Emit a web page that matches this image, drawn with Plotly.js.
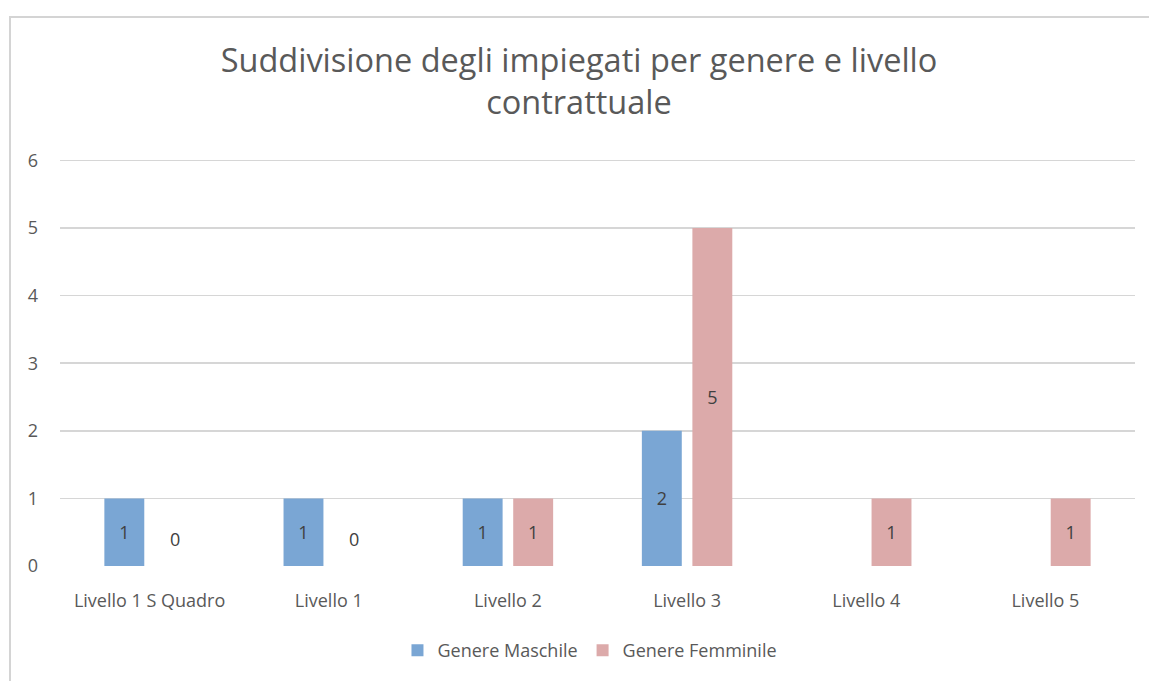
<!DOCTYPE html>
<html>
<head>
<meta charset="utf-8">
<script src="https://cdn.plot.ly/plotly-3.0.1.min.js"></script>
<style>
  html, body { margin: 0; padding: 0; background: #ffffff; overflow: hidden; }
  #frame { position: absolute; left: 9px; top: 16px; width: 1140px; height: 665px;
           border-left: 2px solid #d4d4d4; border-top: 2px solid #d4d4d4; box-sizing: border-box; }
  #chart { position: absolute; left: 9px; top: 16px; width: 1140px; height: 665px; }
</style>
</head>
<body>
<div id="frame"></div>
<div id="chart"></div>
<script>
const categories = ["Livello 1 S Quadro", "Livello 1", "Livello 2", "Livello 3", "Livello 4", "Livello 5"];
const maschile = [1, 1, 1, 2, null, null];
const femminile = [0, 0, 1, 5, 1, 1];
const seriesNames = ["Genere Maschile", "Genere Femminile"];
const yTicks = [0, 1, 2, 3, 4, 5, 6];

const labelFont = { family: "Open Sans, sans-serif", size: 18, color: "#404040" };
function labels(vals) { return vals.map(v => (v === null || v === 0 ? "" : String(v))); }

const traces = [
  { type: "bar", name: seriesNames[0], x: categories, y: maschile,
    marker: { color: "#7aa6d4" }, text: labels(maschile), textposition: "inside",
    insidetextanchor: "middle", textfont: labelFont, insidetextfont: labelFont,
    cliponaxis: false, hoverinfo: "x+y" },
  { type: "bar", name: seriesNames[1], x: categories, y: femminile,
    marker: { color: "#dcaaaa" }, text: labels(femminile), textposition: "inside",
    insidetextanchor: "middle", textfont: labelFont, insidetextfont: labelFont,
    cliponaxis: false, hoverinfo: "x+y" }
];

// labels for zero-height bars (drawn at the bar's own slot, just above the baseline)
const zeroAnnotations = [];
[[maschile, -25], [femminile, 25]].forEach(([vals, slot]) => {
  vals.forEach((v, i) => {
    if (v === 0) {
      zeroAnnotations.push({ x: categories[i], y: v, xref: "x", yref: "y", text: String(v),
        showarrow: false, xshift: slot, yshift: 27, font: labelFont });
    }
  });
});

const layout = {
  width: 1140, height: 665,
  paper_bgcolor: "rgba(0,0,0,0)", plot_bgcolor: "rgba(0,0,0,0)",
  margin: { l: 51, r: 14, t: 141, b: 115 },
  font: { family: "Open Sans, sans-serif", color: "#595959" },
  title: { text: "Suddivisione degli impiegati per genere e livello<br>contrattuale",
           font: { family: "Open Sans, sans-serif", size: 32.5, color: "#595959" },
           x: 0.5, xanchor: "center", y: 0.916, yanchor: "middle", yref: "container" },
  barmode: "group", bargap: 0.436, bargroupgap: 0.21,
  showlegend: true,
  legend: { orientation: "h", x: 0.493, xanchor: "center", y: -0.207, yanchor: "middle",
            font: { family: "Open Sans, sans-serif", size: 18, color: "#595959" },
            traceorder: "normal" },
  annotations: zeroAnnotations,
  xaxis: { type: "category", showgrid: false, zeroline: false, showline: false, ticks: "",
           tickfont: { family: "Open Sans, sans-serif", size: 18, color: "#595959" },
           ticklabelstandoff: 22, fixedrange: true },
  yaxis: { range: [0, 6.05], tickvals: yTicks, ticktext: yTicks.map(String),
           showgrid: true, gridcolor: "#d6d6d6", gridwidth: 1.6, zeroline: false, showline: false, ticks: "",
           tickfont: { family: "Open Sans, sans-serif", size: 18, color: "#595959" },
           ticklabelstandoff: 21, fixedrange: true }
};

Plotly.newPlot("chart", traces, layout, { displayModeBar: false, staticPlot: true });
</script>
</body>
</html>
